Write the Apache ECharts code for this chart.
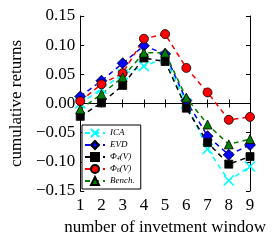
<!DOCTYPE html>
<html><head><meta charset="utf-8">
<script src="https://cdn.jsdelivr.net/npm/echarts@6/dist/echarts.min.js"></script>
<style>html,body{margin:0;padding:0;background:#fff}#c{width:279px;height:247px}</style>
</head><body><div id="c"></div>
<script>
const windows = [1,2,3,4,5,6,7,8,9];
const ICA   = [0.000, 0.025, 0.050, 0.064, 0.078, 0.000, -0.078, -0.132, -0.108];
const EVD   = [0.012, 0.039, 0.069, 0.099, 0.085, 0.005, -0.056, -0.088, -0.071];
const PHI4  = [-0.022, 0.001, 0.031, 0.078, 0.072, -0.008, -0.067, -0.104, -0.091];
const PHI6  = [0.004, 0.033, 0.052, 0.111, 0.119, 0.061, 0.019, -0.028, -0.023];
const BENCH = [-0.010, 0.016, 0.045, 0.087, 0.087, 0.010, -0.036, -0.070, -0.061];
const yTicks = [-0.15,-0.10,-0.05,0.00,0.05,0.10,0.15];

const FONT = 'Liberation Serif';
const pair = a => a.map((v,i)=>[windows[i], v]);
const dash = [5,4];
function mk(name, data, color, symbol, size, border) {
  return {
    name, type:'line', data: pair(data), symbol, symbolSize: size,
    showSymbol:true, clip:true, animation:false,
    lineStyle:{color, width:1.5, type:dash},
    itemStyle:{color, borderColor:border, borderWidth: border===color?1.6:0.8}
  };
}
const chart = echarts.init(document.getElementById('c'), null, {renderer:'canvas'});
const axisCommon = {
  axisLine:{show:true, lineStyle:{color:'#000', width:1}},
  axisTick:{show:true, inside:true, length:4, lineStyle:{color:'#000'}},
  splitLine:{show:false}
};
chart.setOption({
  animation:false,
  grid:{left:80, right:29, top:16, bottom:56},
  xAxis:[
    Object.assign({type:'value', min:1, max:9, interval:1, position:'bottom',
      name:'number of invetment window', nameLocation:'middle', nameGap:26,
      nameTextStyle:{fontFamily:FONT, fontSize:17, color:'#000'},
      axisLabel:{fontFamily:FONT, fontSize:17, color:'#000', margin:6}}, axisCommon),
    Object.assign({type:'value', min:1, max:9, interval:1, position:'top',
      axisLabel:{show:false}}, axisCommon)
  ],
  yAxis:[
    Object.assign({type:'value', min:-0.15, max:0.15, interval:0.05, position:'left',
      name:'cumulative returns', nameLocation:'middle', nameGap:51,
      nameTextStyle:{fontFamily:FONT, fontSize:17, color:'#000'},
      axisLabel:{fontFamily:FONT, fontSize:17, color:'#000', margin:5,
        formatter:v=>{const r=Math.round(v*100)/100; return (r<0?'\u2212':'')+Math.abs(r).toFixed(2);}}}, axisCommon),
    Object.assign({type:'value', min:-0.15, max:0.15, interval:0.05, position:'right',
      axisLabel:{show:false}}, axisCommon)
  ],
  legend:{
    orient:'vertical', left:82, top:125, itemWidth:20, itemHeight:10, itemGap:2,
    padding:[3,6,3,2], borderColor:'#000', borderWidth:1, borderRadius:0,
    backgroundColor:'#fff',
    textStyle:{fontFamily:FONT, fontStyle:'italic', fontSize:9, color:'#000',
      rich:{i:{fontFamily:FONT, fontStyle:'italic', fontSize:9}, n:{fontFamily:FONT, fontSize:9}, s:{fontFamily:FONT, fontSize:6, verticalAlign:'bottom'}}},
    formatter:n=>{
      if(n==='PHI4') return '{n|\u03A6}{s|4}{n|(}{i|V}{n|)}';
      if(n==='PHI6') return '{n|\u03A6}{s|6}{n|(}{i|V}{n|)}';
      return '{i|'+n+'}';
    },
    data:['ICA','EVD','PHI4','PHI6','Bench.']
  },
  series:[
    mk('ICA', ICA, '#00ffff', 'path://M0,0L10,10M10,0L0,10', 10, '#00ffff'),
    mk('EVD', EVD, '#0000ff', 'diamond', 11, '#000'),
    mk('PHI4', PHI4, '#000000', 'rect', 8, '#000'),
    mk('PHI6', PHI6, '#ff0000', 'circle', 9, '#000'),
    mk('Bench.', BENCH, '#008000', 'triangle', 9, '#000')
  ]
});
</script></body></html>
